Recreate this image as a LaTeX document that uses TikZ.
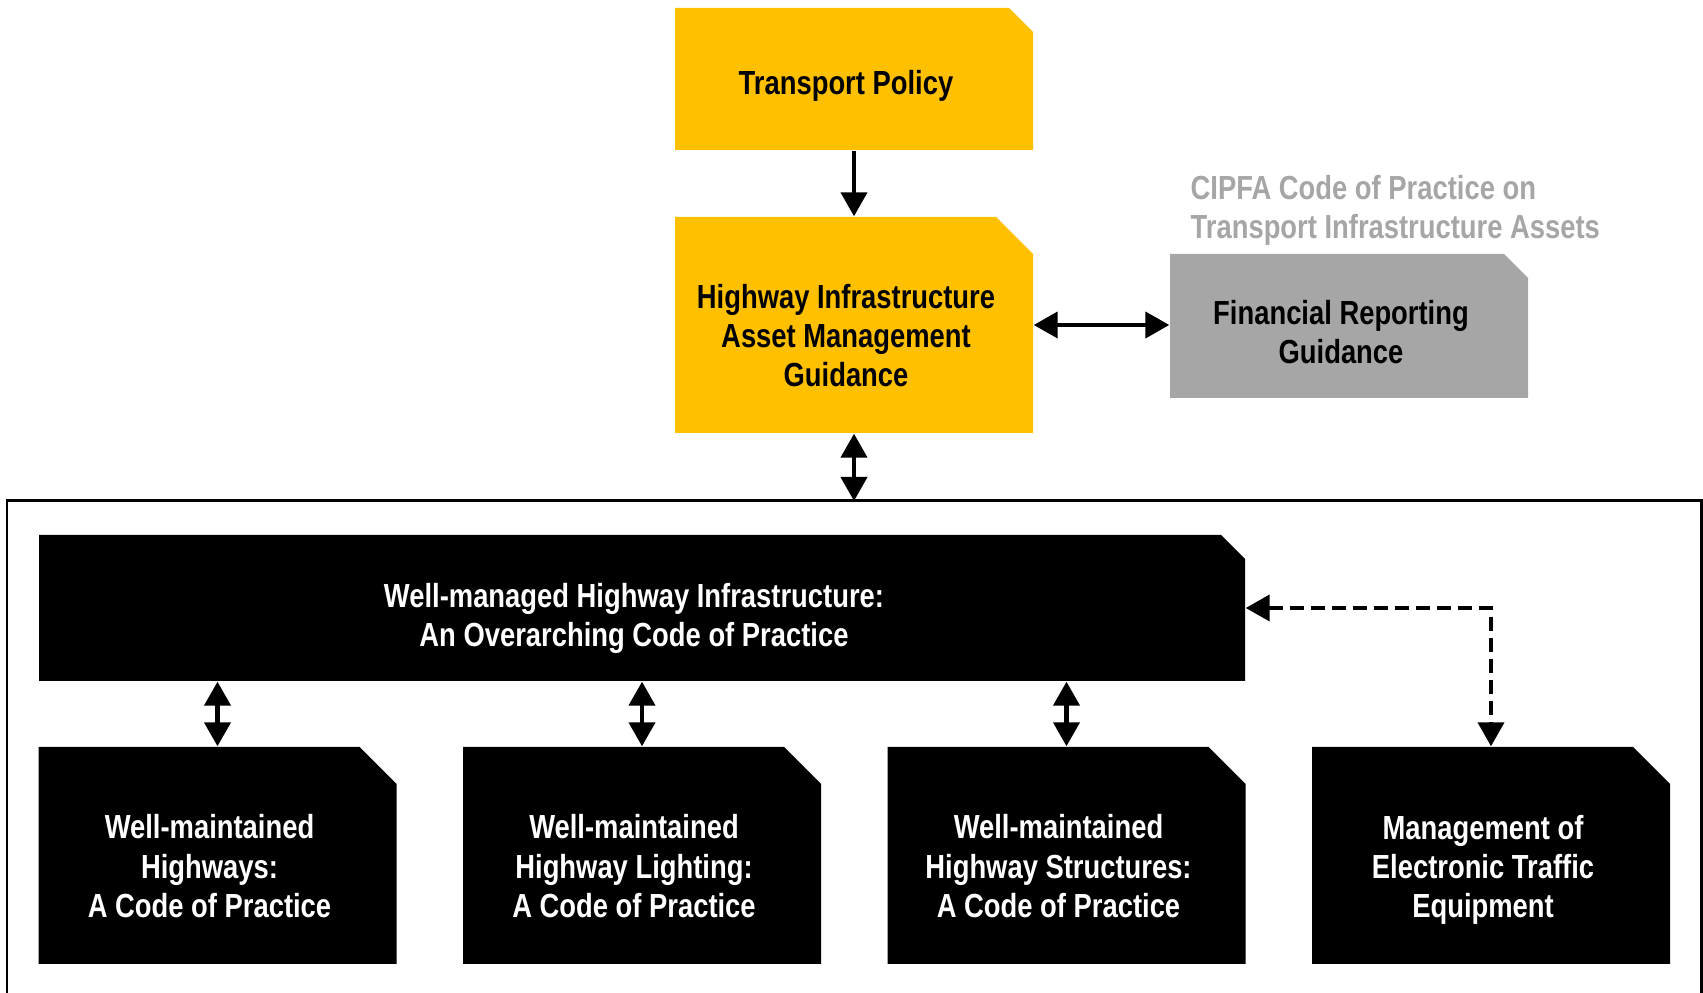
\documentclass[tikz,border=0pt]{standalone}
\usepackage{fontspec}
\setmainfont{Liberation Sans}[FakeStretch=0.82]
\usetikzlibrary{shapes.misc}
\usetikzlibrary{arrows.meta}
\definecolor{gold}{HTML}{FFC000}
\definecolor{greybox}{HTML}{A6A6A6}
\newcommand{\docstrut}[1][12.9pt]{\rule{0pt}{#1}}
\tikzset{
	doc/.style={chamfered rectangle,chamfered rectangle corners=north east,chamfered rectangle sep=#1,inner sep=0pt,align=center,font=\fontsize{9.5}{11.1}\selectfont\bfseries,execute at end node={\hspace*{0.16cm}}},
	yellowdoc/.style={doc=#1,fill=gold,text=black},
	greydoc/.style={doc=#1,fill=greybox,text=black},
	blackdoc/.style={doc=#1,fill=black,text=white},
	link/.style={line width=1.2pt,{Triangle[length=0.24cm,width=0.26cm]}-{Triangle[length=0.24cm,width=0.26cm]}},
	onelink/.style={line width=1.2pt,-{Triangle[length=0.24cm,width=0.26cm]}}
}
\begin{document}
\begin{tikzpicture}
	\useasboundingbox (0,0) rectangle (17.03,9.93);
	\node[yellowdoc=0.12cm,minimum width=3.58cm,minimum height=1.42cm] (policy) at (8.54,9.14) {\docstrut[11pt]Transport Policy};
	\node[yellowdoc=0.185cm,minimum width=3.58cm,minimum height=2.16cm] (guidance) at (8.54,6.68) {\docstrut Highway Infrastructure\\Asset Management\\Guidance};
	\node[greydoc=0.12cm,minimum width=3.58cm,minimum height=1.44cm] (finance) at (13.49,6.67) {\docstrut[10.4pt]Financial Reporting\\Guidance};
	\node[anchor=west,inner sep=0pt,align=left,text=greybox,font=\fontsize{9.5}{11.1}\selectfont\bfseries] (cipfa) at (11.90,7.83) {CIPFA Code of Practice on\\Transport Infrastructure Assets};
	\draw[line width=0.85pt] (0.07,-0.2) -- (0.07,4.92) -- (17.01,4.92) -- (17.01,-0.2);
	\coordinate (frametop) at (8.54,4.92);
	\node[blackdoc=0.12cm,minimum width=12.06cm,minimum height=1.46cm] (overarching) at (6.42,3.85) {\docstrut Well-managed Highway Infrastructure:\\An Overarching Code of Practice};
	\node[blackdoc=0.185cm,minimum width=3.58cm,minimum height=2.17cm] (highways) at (2.175,1.375) {\docstrut Well-maintained\\Highways:\\A Code of Practice};
	\node[blackdoc=0.185cm,minimum width=3.58cm,minimum height=2.17cm] (lighting) at (6.42,1.375) {\docstrut Well-maintained\\Highway Lighting:\\A Code of Practice};
	\node[blackdoc=0.185cm,minimum width=3.58cm,minimum height=2.17cm] (structures) at (10.665,1.375) {\docstrut Well-maintained\\Highway Structures:\\A Code of Practice};
	\node[blackdoc=0.185cm,minimum width=3.58cm,minimum height=2.17cm] (traffic) at (14.91,1.375) {\docstrut[14.8pt]Management of\\Electronic Traffic\\Equipment};
	\draw[onelink] (policy.south) -- (guidance.north);
	\draw[link] (guidance.south) -- (frametop);
	\draw[link] (guidance.east) -- (guidance.east -| finance.west);
	\foreach \b in {highways,lighting,structures}
		\draw[link] (\b.north |- overarching.south) -- (\b.north);
	\draw[link,dash pattern=on 0.14cm off 0.07cm] (overarching.east) -| (traffic.north);
\end{tikzpicture}
\end{document}
